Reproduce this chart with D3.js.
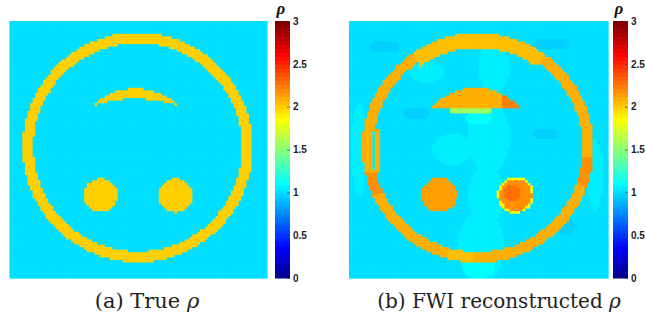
<!DOCTYPE html>
<html><head><meta charset="utf-8">
<script src="https://cdn.jsdelivr.net/npm/d3@7"></script>
<style>html,body{margin:0;padding:0;background:#fff;overflow:hidden}</style>
</head><body><svg id="c" width="646" height="324"></svg>
<script>
// ---------- data ----------
const GRID = 100;                       // model is 100 x 100 cells
const colorDomain = [0, 3];
const tickValues = [0, 0.5, 1, 1.5, 2, 2.5, 3];
const tickLabels = ["0", "0.5", "1", "1.5", "2", "2.5", "3"];
const captions = ["(a) True ", "(b) FWI reconstructed "];
const colorbarTitle = "\u03C1";

// True model (cell units, value rho)
const trueBackground = 1.0;
const trueRings = [{cx: 49.8, cy: 49.2, rIn: 40.5, rOut: 44.7, v: 2.0}];
const trueCrescents = [{cx: 48.9, cy: 50.7, r: 24.4, cx2: 48.9, cy2: 80.1, r2: 49.8, v: 2.0}];
const trueDisks = [{cx: 35.4, cy: 67.9, r: 6.6, v: 2.0}, {cx: 64.5, cy: 67.9, r: 6.6, v: 2.0}];

// FWI reconstructed model
const recBackground = 1.0;
const recBackgroundPatches = [
  {cx: 14, cy: 10, rx: 6, ry: 2.5, v: 0.97}, {cx: 78, cy: 9, rx: 7, ry: 2.5, v: 0.97},
  {cx: 26, cy: 36, rx: 5, ry: 2.5, v: 0.97}, {cx: 76, cy: 44, rx: 5, ry: 2.5, v: 0.97},
  {cx: 84, cy: 80, rx: 4, ry: 3, v: 0.97},
  {cx: 4, cy: 50, rx: 3, ry: 18, v: 1.05}, {cx: 95, cy: 60, rx: 3, ry: 14, v: 1.05},
  {cx: 30, cy: 20, rx: 7, ry: 4, v: 1.05}, {cx: 40, cy: 50, rx: 8, ry: 6, v: 1.05},
  {cx: 56, cy: 18, rx: 6, ry: 10, v: 1.05}, {cx: 54, cy: 45, rx: 8, ry: 14, v: 1.05},
  {cx: 53, cy: 68, rx: 7, ry: 12, v: 1.05}, {cx: 51, cy: 88, rx: 9, ry: 14, v: 1.05},
  {cx: 50, cy: 38, rx: 5, ry: 2.5, v: 1.1}, {cx: 50, cy: 96, rx: 6, ry: 4, v: 1.1}
];
const recRings = [{cx: 49.8, cy: 49.4, rIn: 40.5, rOut: 44.7, v: 2.1}];
const recRingArcs = [
  {cx: 49.8, cy: 49.4, rIn: 38.8, rOut: 44.7, a0: -125, a1: -55, v: 2.05},
  {cx: 49.8, cy: 49.4, rIn: 40.5, rOut: 44.7, a0: 93, a1: 106, v: 2.05},
  {cx: 49.8, cy: 49.4, rIn: 40.5, rOut: 44.7, a0: 5, a1: 20, v: 2.2},
  {cx: 49.8, cy: 49.4, rIn: 40.5, rOut: 44.7, a0: 155, a1: 170, v: 2.2}
];
const recRects = [
  {x0: 6, x1: 12, y0: 42, y1: 59, v: 2.1},
  {x0: 9, x1: 10, y0: 43, y1: 58, v: 1.05},
  {x0: 39, x1: 55, y0: 34, y1: 36, v: 1.56}
];
const recCaps = [
  {cx: 48.8, cy: 48.4, r: 22.4, yMax: 34, xMin: -1, v: 2.1},
  {cx: 48.8, cy: 48.4, r: 22.4, yMax: 34, xMin: 59, v: 2.22}
];
const recDisks = [
  {cx: 34.9, cy: 67.7, r: 6.8, v: 2.12},
  {cx: 64.4, cy: 67.7, r: 7.1, v: 1.86},
  {cx: 64.4, cy: 67.7, r: 6.2, v: 2.2},
  {cx: 63.0, cy: 67.0, r: 3.0, v: 2.28}
];

// ---------- colormap (MATLAB jet, 64 entries) ----------
function jet(m) {
  const n = Math.ceil(m / 4);
  const u = [];
  for (let k = 1; k <= n; k++) u.push(k / n);
  for (let k = 1; k < n; k++) u.push(1);
  for (let k = n; k >= 1; k--) u.push(k / n);
  const off = Math.ceil(n / 2) - (m % 4 === 1 ? 1 : 0);
  const J = Array.from({length: m}, () => [0, 0, 0]);
  u.forEach((val, k) => {
    const g = off + k + 1, r = g + n, b = g - n;
    if (g >= 1 && g <= m) J[g - 1][1] = val;
    if (r >= 1 && r <= m) J[r - 1][0] = val;
    if (b >= 1 && b <= m) J[b - 1][2] = val;
  });
  return J.map(c => d3.rgb(c[0] * 255, c[1] * 255, c[2] * 255).formatHex());
}
const jet64 = jet(64);
const color = d3.scaleQuantize().domain(colorDomain).range(jet64);

// ---------- rasterize ----------
const inEllipse = (s, x, y) => ((x - s.cx) / s.rx) ** 2 + ((y - s.cy) / s.ry) ** 2 <= 1;
const inDisk = (s, x, y) => (x - s.cx) ** 2 + (y - s.cy) ** 2 <= s.r * s.r;
const inRing = (s, x, y) => { const d = Math.hypot(x - s.cx, y - s.cy); return d >= s.rIn && d <= s.rOut; };
const inArc = (s, x, y) => { if (!inRing(s, x, y)) return false; const a = Math.atan2(y - s.cy, x - s.cx) * 180 / Math.PI; return a >= s.a0 && a <= s.a1; };
const inCrescent = (s, x, y) => (x - s.cx) ** 2 + (y - s.cy) ** 2 <= s.r * s.r && (x - s.cx2) ** 2 + (y - s.cy2) ** 2 > s.r2 * s.r2;
const inCap = (s, x, y) => inDisk(s, x, y) && y <= s.yMax && x >= s.xMin;
const inRect = (s, x, y) => x >= s.x0 && x < s.x1 && y >= s.y0 && y < s.y1;

function rasterize(bg, layers) {
  const cells = [];
  for (let j = 0; j < GRID; j++) for (let i = 0; i < GRID; i++) {
    const x = i + 0.5, y = j + 0.5; let v = bg;
    for (const [arr, test] of layers) for (const s of arr) if (test(s, x, y)) v = s.v;
    cells.push({i, j, v});
  }
  return cells;
}
const trueCells = rasterize(trueBackground, [[trueRings, inRing], [trueCrescents, inCrescent], [trueDisks, inDisk]]);
const recCells = rasterize(recBackground, [[recBackgroundPatches, inEllipse], [recRings, inRing], [recRingArcs, inArc],
  [recRects, inRect], [recCaps, inCap], [recDisks, inDisk]]);

// ---------- draw ----------
const svg = d3.select("#c");
const panels = [
  {cells: trueCells, x: [9.5, 267], y: [21, 278], cb: [275, 290], cap: captions[0], capX: 147, capSize: 21, titleX: 281},
  {cells: recCells, x: [349, 608], y: [21, 278], cb: [613, 628], cap: captions[1], capX: 499, capSize: 20, titleX: 619}
];

panels.forEach(p => {
  const xs = d3.scaleLinear().domain([0, GRID]).range(p.x);
  const ys = d3.scaleLinear().domain([0, GRID]).range(p.y);
  svg.append("g").selectAll("rect").data(p.cells).join("rect")
    .attr("x", d => xs(d.i)).attr("y", d => ys(d.j))
    .attr("width", xs(1) - xs(0) + 0.6).attr("height", ys(1) - ys(0) + 0.6)
    .attr("fill", d => color(d.v));

  // colorbar
  const cy = d3.scaleLinear().domain(colorDomain).range([p.y[1], p.y[0]]);
  const cbg = svg.append("g");
  cbg.selectAll("rect").data(jet64).join("rect")
    .attr("x", p.cb[0]).attr("width", p.cb[1] - p.cb[0])
    .attr("y", d => cy(color.invertExtent(d)[1]))
    .attr("height", d => cy(color.invertExtent(d)[0]) - cy(color.invertExtent(d)[1]) + 0.5)
    .attr("fill", d => d);
  const axis = d3.axisRight(cy).tickValues(tickValues).tickFormat((d, i) => tickLabels[i])
    .tickSizeInner(-3).tickSizeOuter(0).tickPadding(3);
  const ag = svg.append("g").attr("transform", `translate(${p.cb[1]},0)`).call(axis);
  ag.select(".domain").remove();
  ag.selectAll(".tick line").attr("stroke", "#444").attr("stroke-width", 0.7);
  ag.selectAll(".tick text").attr("font-family", "'Liberation Sans', Arial, sans-serif")
    .attr("font-weight", "bold").attr("font-size", 10).attr("fill", "#222");

  svg.append("text").attr("x", p.titleX).attr("y", 14).attr("text-anchor", "middle")
    .attr("font-family", "'Liberation Serif', serif").attr("font-style", "italic").attr("font-weight", "bold")
    .attr("font-size", 17).attr("fill", "#111").text(colorbarTitle);

  const t = svg.append("text").attr("x", p.capX).attr("y", 308).attr("text-anchor", "middle")
    .attr("font-family", "'DejaVu Serif', serif").attr("font-size", p.capSize).attr("fill", "#222");
  t.append("tspan").text(p.cap);
  t.append("tspan").attr("font-style", "italic").text("\u03C1");
});
</script></body></html>
